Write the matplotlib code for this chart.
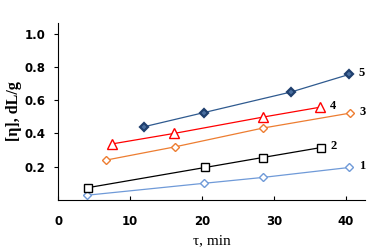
import numpy as np
import matplotlib.pyplot as plt

# data
t1 = [4.0, 20.3, 28.4, 40.4]
eta1 = [0.028, 0.10, 0.135, 0.195]
t2 = [4.2, 20.4, 28.4, 36.5]
eta2 = [0.074, 0.195, 0.255, 0.315]
t3 = [6.6, 16.2, 28.4, 40.5]
eta3 = [0.239, 0.319, 0.432, 0.522]
t4 = [7.5, 16.1, 28.4, 36.4]
eta4 = [0.337, 0.40, 0.498, 0.558]
t5 = [12.0, 20.3, 32.4, 40.4]
eta5 = [0.441, 0.526, 0.65, 0.755]
labels = ['1', '2', '3', '4', '5']

series = [
    (t1, eta1, '#6f9ad8', 'D', 'none'),
    (t2, eta2, '#000000', 's', 'none'),
    (t3, eta3, '#ed7d31', 'D', 'none'),
    (t4, eta4, '#ff0000', '^', 'none'),
    (t5, eta5, '#2f5a8f', 'D', 'fill'),
]

fig = plt.figure(figsize=(3.7, 2.48), dpi=100)
ax = fig.add_axes([0.157, 0.194, 0.829, 0.714])

for (x, y, c, m, f), lab in zip(series, labels):
    ms = 5.5 if m == 's' else (6.5 if m == '^' else 4.3)
    if f == 'fill':
        ax.plot(x, y, color=c, lw=0.9, marker=m, ms=4.3, mfc='#4a6fa0', mec='#1f3f6e', mew=1.6)
    else:
        ax.plot(x, y, color=c, lw=0.9, marker=m, ms=ms, mfc='white', mec=c, mew=1.0)
    ax.annotate(lab, (x[-1], y[-1]), xytext=(7, 1), textcoords='offset points',
                fontsize=9, fontweight='bold', family='Liberation Serif', va='center')

ax.set_xlim(0, 42.6)
ax.set_ylim(0, 1.066)
ax.set_xticks([0, 10, 20, 30, 40])
ax.set_yticks([0.2, 0.4, 0.6, 0.8, 1.0])
ax.set_yticklabels(['0.2', '0.4', '0.6', '0.8', '1.0'])
ax.tick_params(axis='x', direction='in', length=3, pad=11, labelsize=8.5)
ax.tick_params(axis='y', direction='out', length=3, pad=6, labelsize=8.5)
for lb in ax.get_xticklabels() + ax.get_yticklabels():
    lb.set_fontweight('bold')
ax.spines['top'].set_visible(False)
ax.spines['right'].set_visible(False)
ax.set_ylabel('[η], dL/g', family='Liberation Serif', fontsize=11.5, fontweight='bold', labelpad=2)
ax.set_xlabel('τ, min', family='Liberation Serif', fontsize=11, labelpad=4)

fig.savefig('out.png', dpi=100)
